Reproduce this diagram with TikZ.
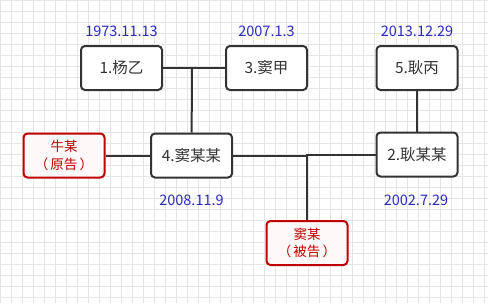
\documentclass[tikz,border=0pt]{standalone}
\usepackage{fontspec}
\setmainfont{Noto Sans CJK SC}
\usepackage{xcolor}
\usepackage{tikz}
\usetikzlibrary{positioning}
\definecolor{inkx}{HTML}{333333}
\definecolor{redx}{HTML}{C00000}
\definecolor{pinkbg}{HTML}{FFF8F8}
\definecolor{bluex}{HTML}{2B2BBE}
\tikzset{
  person/.style={draw=inkx,line width=2pt,rounded corners=4pt,fill=white,
    minimum width=81pt,minimum height=44pt,inner sep=0pt,text=inkx,font=\fontsize{15.5}{17}\selectfont},
  party/.style={draw=redx,line width=2pt,rounded corners=4pt,fill=pinkbg,
    minimum width=81pt,minimum height=44pt,inner sep=0pt,text=redx,align=center,
    font=\fontsize{13.5}{17.5}\selectfont},
  ln/.style={inkx,line width=2pt},
  dt/.style={text=bluex,font=\fontsize{14.5}{16}\selectfont,inner sep=0pt},
  gr/.style={gray!20,line width=0.8pt}
}
\begin{document}
\begin{tikzpicture}[x=1pt,y=-1pt]
\useasboundingbox (0,0) rectangle (488,303);
\fill[white] (0,0) rectangle (488,303);
\draw[gr,step=11pt] (0,0) grid (488,303);
% family members
\node[person] (yang)  at (121.5,68)  {1.杨乙};
\node[person] (doujia) at (266.5,68) {3.窦甲};
\node[person] (bing)  at (417,68)    {5.耿丙};
\node[person] (dou4)  at (191.5,155.5) {4.窦某某};
\node[person] (geng)  at (417,154.5) {2.耿某某};
% parties
\node[party] (plaintiff) at (64,155.5) {牛某\\（\,原告\,）};
\node[party] (defendant) at (307,243)  {窦某\\（\,被告\,）};
% dates
\node[dt] at (121.5,31) {1973.11.13};
\node[dt] at (266.5,31) {2007.1.3};
\node[dt] at (417,31)   {2013.12.29};
\node[dt] at (191.5,200) {2008.11.9};
\node[dt] at (416,200)  {2002.7.29};
% connectors
\coordinate (m1) at (192,68);
\coordinate (m2) at (307,155.5);
\draw[ln] (yang) -- (doujia);
\draw[ln] (m1) -- (dou4);
\draw[ln] (plaintiff) -- (dou4);
\draw[ln] (dou4) -- (m2) -- (m2 |- geng) -- (geng);
\draw[ln] (m2) -- (defendant);
\draw[ln] (bing) -- (geng);
\end{tikzpicture}
\end{document}
